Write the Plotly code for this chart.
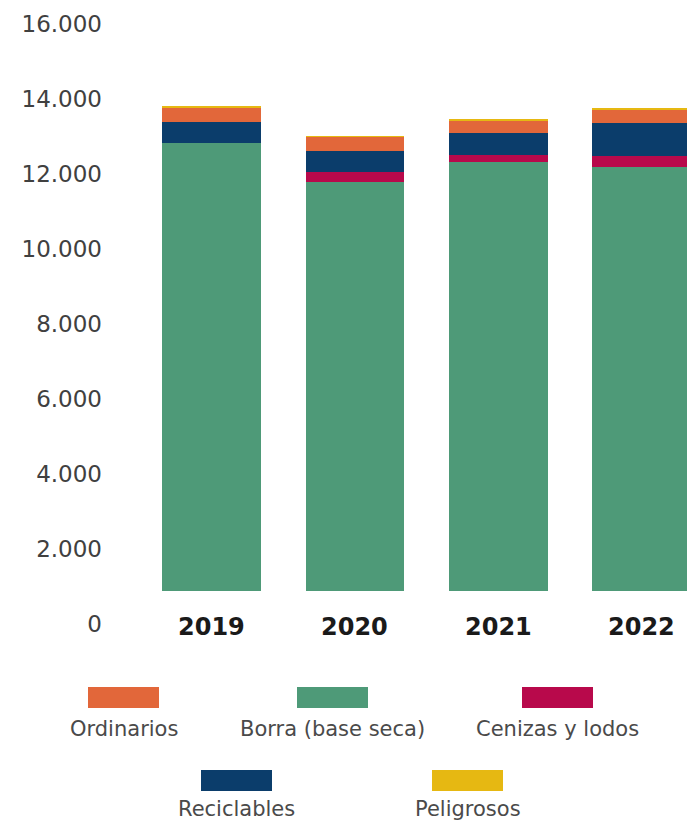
import plotly.graph_objects as go

years = ["2019", "2020", "2021", "2022"]
series_names = ["Borra (base seca)", "Cenizas y lodos", "Reciclables", "Ordinarios", "Peligrosos"]
borra = [12820, 11790, 12330, 12180]
cenizas = [0, 275, 180, 300]
reciclables = [575, 560, 578, 872]
ordinarios = [365, 373, 330, 373]
peligrosos = [35, 8, 40, 10]
values = [borra, cenizas, reciclables, ordinarios, peligrosos]
colors = ["#4E9A78", "#B8094B", "#0B3D6B", "#E2673A", "#E6B812"]
y_ticks = [0, 2000, 4000, 6000, 8000, 10000, 12000, 14000, 16000]
y_tick_labels = ["0", "2.000", "4.000", "6.000", "8.000", "10.000", "12.000", "14.000", "16.000"]

OFF = 8  # page body margin
W, H = 687, 815
L, R, T, B = 132, 0, 16, 199
PW, PH = W - L - R, H - T - B

FONT = "DejaVu Sans"

fig = go.Figure()
for name, vals, col in zip(series_names, values, colors):
    fig.add_trace(go.Bar(x=years, y=vals, name=name, marker=dict(color=col, line=dict(width=0)),
                         showlegend=False))

def px(x):
    return (x - OFF - L) / PW

def py(y):
    return 1 - (y - OFF - T) / PH

# cover below bar bottoms (as in reference)
fig.add_shape(type="rect", xref="paper", yref="y", x0=0, x1=1, y0=0, y1=880,
              fillcolor="white", line=dict(width=0), layer="above")

# year labels
for i, yr in enumerate(years):
    fig.add_annotation(x=i, y=0, xref="x", yref="y", text="<b>%s</b>" % yr, showarrow=False,
                       yanchor="middle", yshift=-3,
                       font=dict(family=FONT, size=24, color="#1a1a1a"))

# custom legend: swatch above label
legend_order = ["Ordinarios", "Borra (base seca)", "Cenizas y lodos", "Reciclables", "Peligrosos"]
legend_pos = {
    "Ordinarios": (88, 687, 729),
    "Borra (base seca)": (297, 687, 729),
    "Cenizas y lodos": (522, 687, 729),
    "Reciclables": (201, 770, 809),
    "Peligrosos": (432, 770, 809),
}
for name in legend_order:
    col = colors[series_names.index(name)]
    x0, sy, ty = legend_pos[name]
    fig.add_shape(type="rect", xref="paper", yref="paper", x0=px(x0), x1=px(x0 + 71),
                  y0=py(sy + 21), y1=py(sy), fillcolor=col, line=dict(width=0))
    fig.add_annotation(xref="paper", yref="paper", x=px(x0 + 35.5), y=py(ty), text=name,
                       showarrow=False, xanchor="center", yanchor="middle",
                       font=dict(family=FONT, size=21, color="#4a4a4a"))

fig.update_layout(
    width=W, height=H,
    margin=dict(l=L, r=R, t=T, b=B),
    barmode="stack", bargap=0.31,
    plot_bgcolor="white", paper_bgcolor="white",
    xaxis=dict(range=[-0.5, 3.373], showticklabels=False, showgrid=False, zeroline=False,
               showline=False, ticks=""),
    yaxis=dict(range=[0, 16000], tickvals=y_ticks, ticktext=y_tick_labels, showgrid=False,
               zeroline=False, showline=False, ticks="", ticklabelstandoff=37,
               tickfont=dict(family=FONT, size=23, color="#404040")),
    font=dict(family=FONT),
)

fig.write_html("out.html")
